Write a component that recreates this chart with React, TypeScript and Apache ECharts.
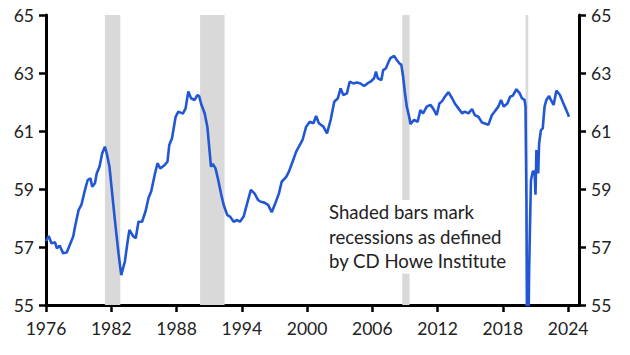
import React, { useEffect, useRef } from "react";
import * as echarts from "echarts";

const months: string[] = [
  "1976-01","1976-04","1976-07","1976-11","1977-01","1977-04","1977-08","1977-12","1978-04","1978-07",
  "1978-09","1979-01","1979-04","1979-08","1979-11","1980-02","1980-04","1980-07","1980-09","1980-12",
  "1981-03","1981-06","1981-08","1981-11","1982-02","1982-05","1982-09","1982-12","1983-04","1983-07",
  "1983-09","1984-01","1984-04","1984-07","1984-11","1985-03","1985-06","1985-09","1986-01","1986-04",
  "1986-07","1986-12","1987-03","1987-05","1987-08","1987-12","1988-03","1988-08","1988-11","1989-02",
  "1989-05","1989-09","1989-12","1990-02","1990-04","1990-08","1990-11","1991-01","1991-03","1991-05",
  "1991-08","1991-11","1992-02","1992-05","1992-09","1992-12","1993-04","1993-08","1993-11","1994-03",
  "1994-07","1994-11","1995-03","1995-07","1995-10","1996-02","1996-06","1996-10","1997-02","1997-06",
  "1997-09","1998-02","1998-05","1998-09","1999-01","1999-04","1999-08","1999-12","2000-04","2000-08",
  "2000-11","2001-02","2001-07","2001-11","2002-03","2002-07","2002-11","2003-02","2003-05","2003-09",
  "2003-12","2004-04","2004-08","2004-12","2005-04","2005-09","2005-11","2006-03","2006-05","2006-07",
  "2006-11","2007-01","2007-04","2007-07","2007-09","2008-01","2008-04","2008-07","2008-09","2008-11",
  "2009-01","2009-03","2009-06","2009-07","2009-11","2010-03","2010-06","2010-09","2011-01","2011-05",
  "2011-08","2011-12","2012-03","2012-06","2012-09","2013-01","2013-05","2013-08","2013-12","2014-04",
  "2014-07","2014-11","2015-03","2015-06","2015-10","2016-02","2016-06","2016-09","2017-01","2017-04",
  "2017-08","2017-11","2018-02","2018-06","2018-09","2018-12","2019-04","2019-08","2019-10","2020-01",
  "2020-02","2020-03","2020-04","2020-05","2020-06","2020-07","2020-08","2020-10","2020-12","2021-01",
  "2021-02","2021-04","2021-05","2021-07","2021-09","2021-11","2022-01","2022-04","2022-06","2022-09",
  "2022-12","2023-04","2023-07","2023-11","2024-02"
];

const employmentRate: number[] = [
  57.2,57.38,57.13,57.16,56.95,57.05,56.78,56.82,57.13,57.36,
  57.7,58.28,58.45,58.97,59.31,59.37,59.08,59.2,59.54,59.77,
  60.23,60.46,60.23,59.77,58.85,57.93,56.78,56.03,56.5,57.18,
  57.59,57.38,57.3,57.87,57.87,58.25,58.68,58.91,59.5,59.89,
  59.71,59.83,59.94,60.52,60.75,61.49,61.67,61.6,61.78,62.36,
  62.13,62.07,62.24,62.2,61.95,61.61,61.15,60.46,59.77,59.86,
  59.71,59.31,58.85,58.45,58.1,58.05,57.87,57.93,57.87,58.05,
  58.51,58.97,58.85,58.62,58.56,58.53,58.45,58.2,58.51,58.85,
  59.25,59.42,59.6,59.94,60.29,60.46,60.69,61.15,61.32,61.27,
  61.52,61.27,61.15,60.92,61.38,62.01,62.13,62.47,62.24,62.3,
  62.7,62.64,62.67,62.64,62.55,62.67,62.7,62.82,63.05,62.82,
  62.76,63.1,63.16,63.39,63.51,63.59,63.45,63.33,63.28,62.87,
  62.3,61.84,61.44,61.24,61.38,61.32,61.72,61.61,61.84,61.9,
  61.78,61.55,61.95,62.03,62.18,62.34,62.13,61.95,61.78,61.61,
  61.67,61.61,61.76,61.55,61.49,61.29,61.25,61.21,61.55,61.67,
  61.84,62.07,61.84,61.95,62.18,62.22,62.44,62.28,62.13,62.07,
  61.84,58.6,52.4,53.5,56.2,57.8,59.3,59.6,59.6,58.8,
  60.34,59.54,60.57,61.03,61.09,61.84,62.07,62.21,62.07,61.9,
  62.39,62.24,62.01,61.72,61.49
];

const recessionStart: string[] = ["1981-06", "1990-03", "2008-10", "2020-02"];
const recessionEnd: string[] = ["1982-11", "1992-06", "2009-06", "2020-05"];

const xTickYears: number[] = [1976, 1982, 1988, 1994, 2000, 2006, 2012, 2018, 2024];
const yTicks: number[] = [55, 57, 59, 61, 63, 65];

const noteLines: string[] = [
  "Shaded bars mark",
  "recessions as defined",
  "by CD Howe Institute",
];

function toYear(m: string): number {
  const [y, mo] = m.split("-").map(Number);
  return y + (mo - 1) / 12;
}

export default function App() {
  const ref = useRef<HTMLDivElement>(null);

  useEffect(() => {
    if (!ref.current) return;
    const chart = echarts.init(ref.current, null, { renderer: "svg" });
    const font = "Lato";
    const axisColor = "#000";
    const labelColor = "#222";

    const yAxisCommon = (pos: "left" | "right") => ({
      type: "value",
      position: pos,
      min: yTicks[0],
      max: yTicks[yTicks.length - 1],
      interval: 2,
      splitLine: { show: false },
      axisLine: { show: true, lineStyle: { color: axisColor, width: 3 } },
      axisTick: { show: true, inside: false, length: 7, lineStyle: { color: axisColor, width: 2.5 } },
      axisLabel: { margin: 12, color: labelColor, fontFamily: font, fontSize: 17.5 },
    });

    chart.setOption({
      animation: false,
      grid: { left: 46, right: 51, top: 15, bottom: 50, containLabel: false },
      xAxis: {
        type: "value",
        min: 1976,
        max: 2025,
        interval: 6,
        splitLine: { show: false },
        axisLine: { show: true, onZero: false, lineStyle: { color: axisColor, width: 3 } },
        axisTick: { show: true, inside: false, length: 7, lineStyle: { color: axisColor, width: 2.5 } },
        axisLabel: {
          margin: 14,
          color: labelColor,
          fontFamily: font,
          fontSize: 17.5,
          showMaxLabel: false,
          formatter: (v: number) => (xTickYears.includes(Math.round(v)) && Math.abs(v - Math.round(v)) < 1e-6 ? String(Math.round(v)) : ""),
        },
      },
      yAxis: [yAxisCommon("left"), yAxisCommon("right")],
      graphic: [
        {
          type: "text",
          left: 327,
          top: 200,
          z: 100,
          style: {
            text: noteLines.join("\n"),
            font: `18.6px ${font}`,
            lineHeight: 24.5,
            fill: "#222",
            backgroundColor: "#fff",
            padding: [0, 2, 0, 2],
          },
        },
      ],
      series: [
        {
          type: "line",
          data: [],
          z: 1,
          markArea: {
            silent: true,
            itemStyle: { color: "#d9d9d9" },
            data: recessionStart.map((s, i) => [{ xAxis: toYear(s) }, { xAxis: toYear(recessionEnd[i]) }]),
          },
        },
        {
          type: "line",
          z: 3,
          data: months.map((m, i) => [toYear(m), employmentRate[i]]),
          showSymbol: false,
          symbol: "none",
          clip: true,
          lineStyle: { color: "#2257d4", width: 2.6 },
        },
      ],
    });
    return () => chart.dispose();
  }, []);

  return <div ref={ref} style={{ width: 630, height: 355, margin: -8 }} />;
}
